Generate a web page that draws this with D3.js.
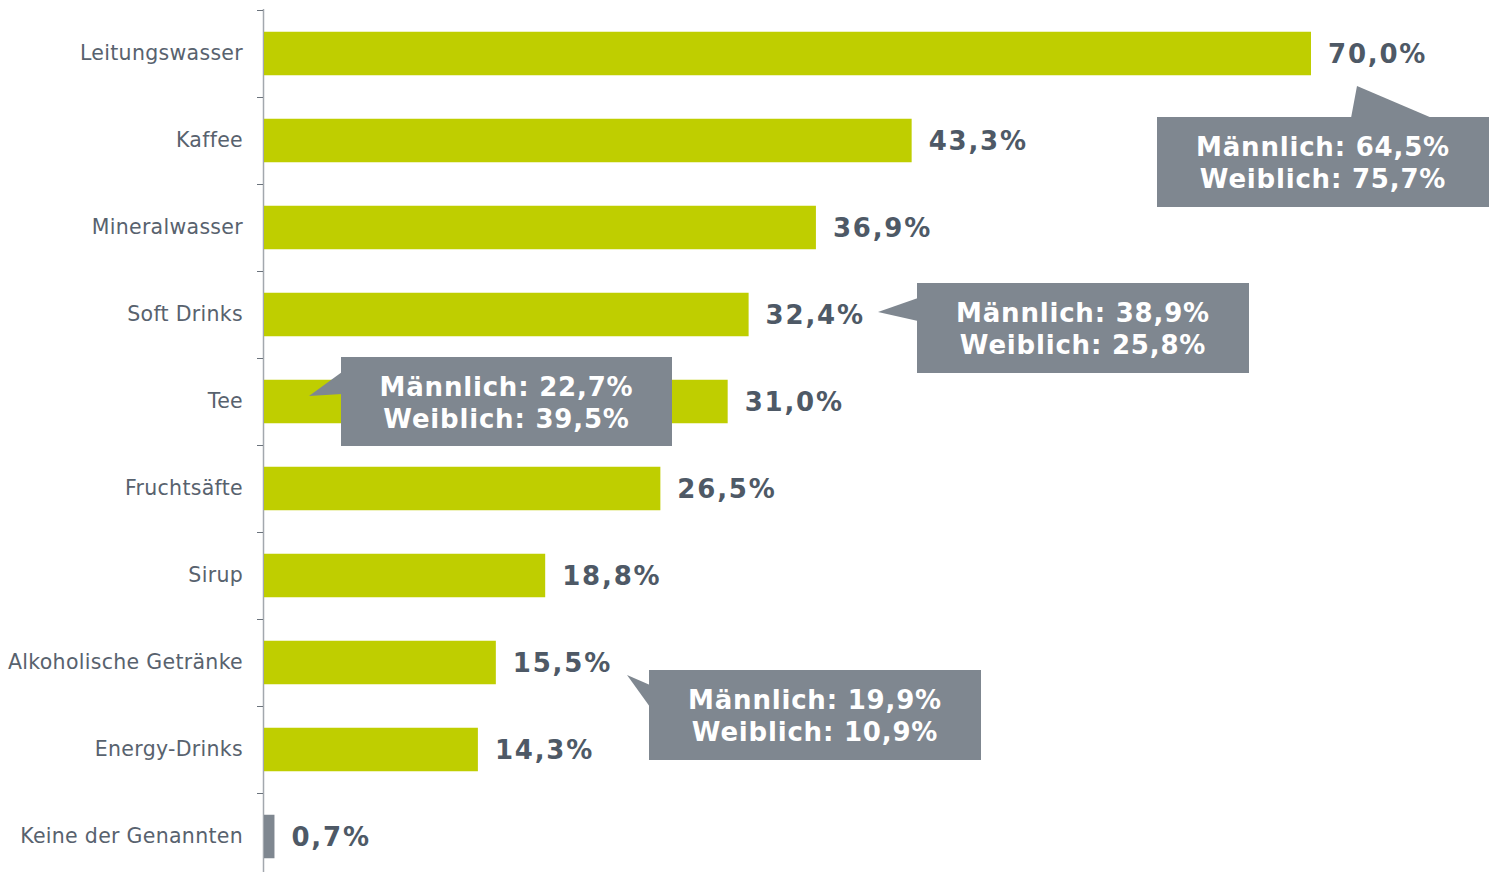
<!DOCTYPE html>
<html>
<head>
<meta charset="utf-8">
<script src="https://cdn.jsdelivr.net/npm/d3@7"></script>
<style>
  body { margin: 0; background: #ffffff; }
  svg { display: block; }
</style>
</head>
<body>
<div id="chart"></div>
<script>
// categories and shares (in percent)
var categories = ["Leitungswasser", "Kaffee", "Mineralwasser", "Soft Drinks", "Tee",
                  "Fruchtsäfte", "Sirup", "Alkoholische Getränke", "Energy-Drinks", "Keine der Genannten"];
var values = [70.0, 43.3, 36.9, 32.4, 31.0, 26.5, 18.8, 15.5, 14.3, 0.7];

// gender breakdown shown in the callouts
var calloutCategories = ["Leitungswasser", "Soft Drinks", "Tee", "Alkoholische Getränke"];
var maleValues = [64.5, 38.9, 22.7, 19.9];
var femaleValues = [75.7, 25.8, 39.5, 10.9];

var width = 1489, height = 872;
var GREEN = "#bfce00", GREY = "#7f8790", TEXT = "#4e5966";
var FONT = "DejaVu Sans, Verdana, sans-serif";

function fmt(v) { return v.toFixed(1).replace(".", ",") + "%"; }

var svg = d3.select("#chart").append("svg")
    .attr("width", width)
    .attr("height", height);

var x = d3.scaleLinear().domain([0, 70]).range([264, 1311]);
var y = d3.scaleBand().domain(categories).range([10, 880])
    .paddingInner(0.5).paddingOuter(0.25);

// axis line and ticks at band boundaries
svg.append("line")
    .attr("x1", 263.5).attr("x2", 263.5)
    .attr("y1", 9).attr("y2", height)
    .attr("stroke", "#a3a8ae").attr("stroke-width", 1.5);

svg.selectAll("line.tick")
    .data(categories)
    .enter()
    .append("line")
    .attr("class", "tick")
    .attr("x1", 257).attr("x2", 263)
    .attr("y1", d => y(d) - y.step() * y.paddingOuter() + 0.5)
    .attr("y2", d => y(d) - y.step() * y.paddingOuter() + 0.5)
    .attr("stroke", "#6b737c").attr("stroke-width", 1);

// bars
svg.selectAll("rect.bar")
    .data(categories)
    .enter()
    .append("rect")
    .attr("class", "bar")
    .attr("x", x(0))
    .attr("y", d => y(d))
    .attr("width", (d, i) => x(values[i]) - x(0))
    .attr("height", y.bandwidth())
    .attr("fill", (d, i) => i == categories.length - 1 ? GREY : GREEN);

// category labels
svg.selectAll("text.cat")
    .data(categories)
    .enter()
    .append("text")
    .attr("class", "cat")
    .attr("x", 243)
    .attr("y", d => y(d) + y.bandwidth() / 2 - 0.5)
    .attr("dy", "0.35em")
    .attr("text-anchor", "end")
    .attr("font-family", FONT)
    .attr("font-size", "20.5px")
    .attr("letter-spacing", "0.3px")
    .attr("fill", "#58626e")
    .text(d => d);

// value labels
svg.selectAll("text.val")
    .data(categories)
    .enter()
    .append("text")
    .attr("class", "val")
    .attr("x", (d, i) => x(values[i]) + 17)
    .attr("y", d => y(d) + y.bandwidth() / 2 + 0.5)
    .attr("dy", "0.35em")
    .attr("font-family", FONT)
    .attr("font-weight", "bold")
    .attr("font-size", "26px")
    .attr("letter-spacing", "1.8px")
    .attr("fill", TEXT)
    .text((d, i) => fmt(values[i]));

// callout layout: box rect and pointer polygon (pixels)
var calloutLayout = [
    { box: [1157, 117, 332, 90], pointer: [[1351, 118], [1357, 86], [1432, 118]] },
    { box: [917, 283, 332, 90],  pointer: [[918, 298], [878, 312], [918, 321]] },
    { box: [341, 357, 331, 89],  pointer: [[342, 372], [309, 396], [342, 394]] },
    { box: [649, 670, 332, 90],  pointer: [[650, 685], [627, 675], [650, 707]] }
];

calloutCategories.forEach(function (c, i) {
    var L = calloutLayout[i];
    var g = svg.append("g").attr("class", "callout");
    g.append("polygon")
        .attr("points", L.pointer.map(p => p.join(",")).join(" "))
        .attr("fill", GREY);
    g.append("rect")
        .attr("x", L.box[0]).attr("y", L.box[1])
        .attr("width", L.box[2]).attr("height", L.box[3])
        .attr("fill", GREY);
    var cx = L.box[0] + L.box[2] / 2;
    var cy = L.box[1] + L.box[3] / 2;
    var lines = ["Männlich: " + fmt(maleValues[i]), "Weiblich: " + fmt(femaleValues[i])];
    lines.forEach(function (t, j) {
        g.append("text")
            .attr("x", cx)
            .attr("y", cy + (j - 0.5) * 32 + 1)
            .attr("dy", "0.35em")
            .attr("text-anchor", "middle")
            .attr("font-family", FONT)
            .attr("font-weight", "bold")
            .attr("font-size", "26px")
            .attr("letter-spacing", "0.8px")
            .attr("fill", "#ffffff")
            .text(t);
    });
});
</script>
</body>
</html>
